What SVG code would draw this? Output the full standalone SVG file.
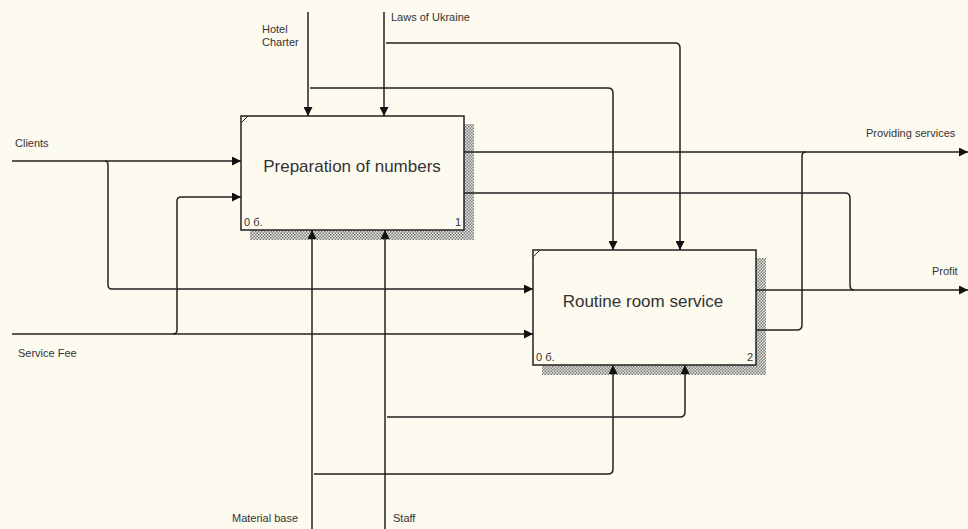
<svg xmlns="http://www.w3.org/2000/svg" width="968" height="529" viewBox="0 0 968 529">
<style>
.bg{fill:#fdfaf0}
.box{fill:#fdfaf0;stroke:#222;stroke-width:1.5}
.c{fill:none;stroke:#222;stroke-width:1.5}
.t{font-family:"Liberation Sans",Arial,sans-serif;font-size:11px;fill:#333}
.bt{font-family:"Liberation Sans",Arial,sans-serif;font-size:17px;fill:#333;text-anchor:middle}
.sm{font-family:"Liberation Sans",Arial,sans-serif;font-size:11px;fill:#333}
.sh{fill:url(#hatch)}
</style>
<defs>
<pattern id="hatch" width="3" height="3" patternUnits="userSpaceOnUse">
<rect width="3" height="3" fill="#ecebe3"/>
<rect width="1.5" height="1.5" fill="#777"/>
<rect x="1.5" y="1.5" width="1.5" height="1.5" fill="#777"/>
</pattern>
<marker id="ar" viewBox="0 0 10 10" refX="10" refY="5" markerWidth="9" markerHeight="9" markerUnits="userSpaceOnUse" orient="auto">
<path d="M0,0 L10,5 L0,10 z" fill="#111"/>
</marker>
</defs>
<rect class="bg" width="968" height="529"/>

<g id="node1">
<rect class="sh" x="250" y="230" width="224" height="10"/>
<rect class="sh" x="464" y="124" width="10" height="116"/>
<rect class="box" x="241" y="116" width="223" height="114"/>
<line x1="241" y1="123" x2="248" y2="116" stroke="#222" stroke-width="1"/>
<text class="bt" x="352" y="172">Preparation of numbers</text>
<text class="sm" x="244" y="226">0 б.</text>
<text class="sm" x="455" y="226">1</text>
</g>

<g id="node2">
<rect class="sh" x="542" y="365" width="224" height="10"/>
<rect class="sh" x="756" y="258" width="10" height="117"/>
<rect class="box" x="533" y="250" width="223" height="115"/>
<line x1="533" y1="257" x2="540" y2="250" stroke="#222" stroke-width="1"/>
<text class="bt" x="643" y="307">Routine room service</text>
<text class="sm" x="536" y="361">0 б.</text>
<text class="sm" x="747" y="361">2</text>
</g>

<g id="connectors">
<path class="c" d="M308,12 V116" marker-end="url(#ar)"/>
<path class="c" d="M310,88 H608 Q613,88 613,93 V250" marker-end="url(#ar)"/>
<path class="c" d="M384,12 V116" marker-end="url(#ar)"/>
<path class="c" d="M386,43 H675 Q680,43 680,48 V250" marker-end="url(#ar)"/>
<path class="c" d="M12,161 H241" marker-end="url(#ar)"/>
<path class="c" d="M105,161 Q108,161 108,165 V285 Q108,289 112,289 H533" marker-end="url(#ar)"/>
<path class="c" d="M12,334 H533" marker-end="url(#ar)"/>
<path class="c" d="M173,334 Q177,334 177,330 V201 Q177,197 181,197 H241" marker-end="url(#ar)"/>
<path class="c" d="M464,152 H968" marker-end="url(#ar)"/>
<path class="c" d="M464,193 H845 Q850,193 850,198 V285 Q850,290 854,290"/>
<path class="c" d="M756,290 H968" marker-end="url(#ar)"/>
<path class="c" d="M756,330 H797 Q802,330 802,325 V156 Q802,152 806,152"/>
<path class="c" d="M312,529 V230" marker-end="url(#ar)"/>
<path class="c" d="M314,474 H608 Q613,474 613,469 V365" marker-end="url(#ar)"/>
<path class="c" d="M385,529 V230" marker-end="url(#ar)"/>
<path class="c" d="M387,417 H680 Q685,417 685,412 V365" marker-end="url(#ar)"/>
</g>

<g id="labels">
<text class="t" x="262" y="33">Hotel</text>
<text class="t" x="262" y="46">Charter</text>
<text class="t" x="391" y="21">Laws of Ukraine</text>
<text class="t" x="15" y="147">Clients</text>
<text class="t" x="18" y="357">Service Fee</text>
<text class="t" x="866" y="137">Providing services</text>
<text class="t" x="932" y="275">Profit</text>
<text class="t" x="232" y="522">Material base</text>
<text class="t" x="393" y="522">Staff</text>
</g>
</svg>
